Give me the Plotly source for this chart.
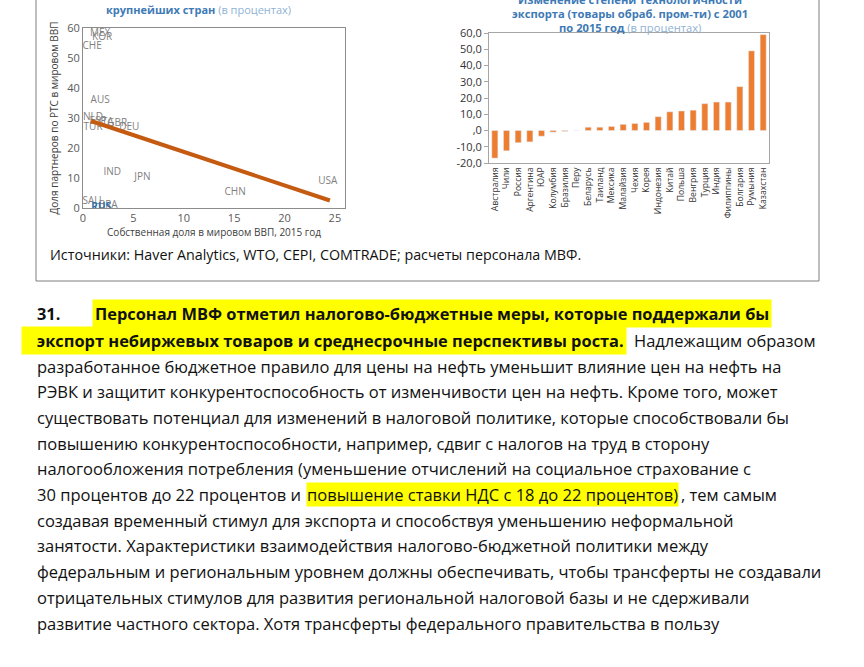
import plotly.graph_objects as go

W, H = 864, 667

# left chart: partner share in world GDP vs own share in world GDP, 2015
countries = ["MEX", "KOR", "CHE", "AUS", "NLD", "ESP", "ITA", "GBR", "DEU", "TUR",
             "IND", "JPN", "CHN", "USA", "SAU", "BRA", "RUS"]
own_gdp_share = [1.7, 1.9, 0.9, 1.7, 1.0, 1.5, 2.3, 3.4, 4.6, 1.0,
                 2.9, 5.9, 15.1, 24.3, 0.9, 2.5, 1.8]
partner_share = [58.3, 57.0, 53.7, 35.7, 30.3, 29.0, 28.6, 28.2, 26.8, 26.7,
                 11.7, 10.3, 5.3, 9.0, 2.3, 0.7, 0.3]
trend_x = [0.8, 24.5]
trend_y = [29.0, 2.5]

# right chart: change in technology content of manufactured exports, 2001-2015
tech_countries = ["Австралия", "Чили", "Россия", "Аргентина", "ЮАР", "Колумбия",
                  "Бразилия", "Перу", "Беларусь", "Таиланд", "Мексика", "Малайзия",
                  "Чехия", "Корея", "Индонезия", "Китай", "Польша", "Венгрия",
                  "Турция", "Индия", "Филиппины", "Болгария", "Румыния", "Казахстан"]
tech_change = [-17.0, -12.5, -7.5, -7.0, -3.5, -1.0, -0.5, 0.0, 2.0, 2.0, 2.5, 3.8,
               4.3, 5.0, 8.5, 11.5, 12.0, 12.5, 16.5, 17.5, 17.5, 27.0, 49.0, 59.0]
tech_ticks = [60, 50, 40, 30, 20, 10, 0, -10, -20]
tech_ticktext = ["60,0", "50,0", "40,0", "30,0", "20,0", "10,0", ",0", "-10,0", "-20,0"]

body_lines = [
    "разработанное бюджетное правило для цены на нефть уменьшит влияние цен на нефть на",
    "РЭВК и защитит конкурентоспособность от изменчивости цен на нефть. Кроме того, может",
    "существовать потенциал для изменений в налоговой политике, которые способствовали бы",
    "повышению конкурентоспособности, например, сдвиг с налогов на труд в сторону",
    "налогообложения потребления (уменьшение отчислений на социальное страхование с",
    None,
    "создавая временный стимул для экспорта и способствуя уменьшению неформальной",
    "занятости. Характеристики взаимодействия налогово-бюджетной политики между",
    "федеральным и региональным уровнем должны обеспечивать, чтобы трансферты не создавали",
    "отрицательных стимулов для развития региональной налоговой базы и не сдерживали",
    "развитие частного сектора. Хотя трансферты федерального правительства в пользу",
]


def px(v):
    return v / W


def py(v):
    return 1 - v / H


BODY = dict(family="Open Sans", size=16.5, color="#111111")
BODY_B = dict(family="Open Sans", size=16.4, color="#111111", weight="bold")
YELLOW = "#ffff00"

fig = go.Figure()

label_colors = ["#7f7f7f"] * len(countries)
label_text = list(countries)
label_colors[countries.index("RUS")] = "#2f6ea5"
label_text[countries.index("RUS")] = "<b>RUS</b>"

fig.add_trace(go.Scatter(
    x=own_gdp_share, y=partner_share, mode="text", text=label_text,
    textfont=dict(family="Open Sans", size=10, color=label_colors),
    xaxis="x", yaxis="y", showlegend=False, hoverinfo="skip"))
fig.add_trace(go.Scatter(
    x=trend_x, y=trend_y, mode="lines",
    line=dict(color="#c55a11", width=4),
    xaxis="x", yaxis="y", showlegend=False))

fig.add_trace(go.Bar(
    x=tech_countries, y=tech_change, marker_color="#ed7d31",
    xaxis="x2", yaxis="y2", showlegend=False))

axis_font = dict(family="Open Sans", size=11, color="#595959")

fig.update_layout(
    width=W, height=H,
    margin=dict(l=0, r=0, t=0, b=0, autoexpand=False),
    paper_bgcolor="white", plot_bgcolor="white",
    bargap=0.48,
    xaxis=dict(domain=[px(83), px(345)], range=[0, 26], anchor="y", automargin=False,
               tickvals=[0, 5, 10, 15, 20, 25], showgrid=False, zeroline=False,
               showline=True, linecolor="#8c8c8c", mirror=True, ticks="",
               tickfont=axis_font,
               title=dict(text="Собственная доля в мировом ВВП, 2015 год",
                          font=dict(family="Open Sans", size=10, color="#404040"),
                          standoff=4)),
    yaxis=dict(domain=[py(208), py(28)], range=[0, 60], anchor="x", automargin=False,
               tickvals=[0, 10, 20, 30, 40, 50, 60], showgrid=False, zeroline=False,
               showline=True, linecolor="#8c8c8c", mirror=True, ticks="",
               tickfont=axis_font,
               title=dict(text="Доля партнеров по РТС в мировом ВВП",
                          font=dict(family="Open Sans", size=10, color="#404040"),
                          standoff=6)),
    xaxis2=dict(domain=[px(489), px(769)], anchor="y2", automargin=False,
                showgrid=False, tickmode="array", tickvals=tech_countries,
                zeroline=False, showline=True, linecolor="#a6a6a6", mirror=True,
                ticks="", tickangle=-90,
                tickfont=dict(family="Open Sans", size=8.6, color="#333333")),
    yaxis2=dict(domain=[py(163), py(33)], range=[-20, 60], anchor="x2", automargin=False,
                tickvals=tech_ticks, ticktext=tech_ticktext, showgrid=False,
                zeroline=False, showline=True, linecolor="#a6a6a6", mirror=True,
                ticks="outside", ticklen=4, tickcolor="#a6a6a6",
                tickfont=dict(family="Open Sans", size=11, color="#333333")),
)

ann = []


def add_text(x, y, text, font, xanchor="left", bg=None, pad=1):
    a = dict(xref="paper", yref="paper", x=px(x), y=py(y), text=text,
             showarrow=False, xanchor=xanchor, yanchor="middle", font=font,
             borderpad=pad)
    if bg:
        a["bgcolor"] = bg
    ann.append(a)


# chart titles
title_font = dict(family="Open Sans", size=11.2, color="#3e7ab5")
add_text(198, 10, "<b>крупнейших стран</b> <span style='color:#8fb2d4'>(в процентах)</span>",
         dict(title_font, size=11), xanchor="center")
add_text(630, -1, "<b>Изменение степени технологичности</b>", title_font, xanchor="center")
add_text(630, 13, "<b>экспорта (товары обраб. пром-ти) с 2001</b>", title_font, xanchor="center")
add_text(630, 27, "<b>по 2015 год</b> <span style='color:#8fb2d4'>(в процентах)</span>",
         title_font, xanchor="center")

# source line
add_text(48, 254, "Источники: Haver Analytics, WTO, CEPI, COMTRADE; расчеты персонала МВФ.",
         dict(family="Open Sans", size=14.3, color="#111111"))

# paragraph 31
add_text(35, 313, "31.", BODY_B)
add_text(92, 313, "Персонал МВФ отметил налогово-бюджетные меры, которые поддержали бы",
         BODY_B, bg=YELLOW, pad=2)
add_text(21, 340, "   экспорт небиржевых товаров и среднесрочные перспективы роста.",
         BODY_B, bg=YELLOW, pad=2)
add_text(632, 340, "Надлежащим образом", BODY)

y0 = 366
step = 25.7
for i, line in enumerate(body_lines):
    yy = y0 + i * step
    if line is None:
        add_text(35, yy, "30 процентов до 22 процентов и", BODY)
        add_text(306, yy, "повышение ставки НДС с 18 до 22 процентов)", BODY, bg=YELLOW, pad=0)
        add_text(679, yy, ", тем самым", BODY)
    else:
        add_text(35, yy, line, BODY)

fig.update_layout(annotations=ann)

# document frame around the figure block
frame = dict(type="line", xref="paper", yref="paper", line=dict(color="#7f7f7f", width=1))
fig.update_layout(shapes=[
    dict(frame, x0=px(36), x1=px(36), y0=py(281), y1=1),
    dict(frame, x0=px(819), x1=px(819), y0=py(281), y1=1),
    dict(frame, x0=px(36), x1=px(819), y0=py(281), y1=py(281)),
])

fig.write_html("out.html", config={"displayModeBar": False},
               post_script="document.body.style.margin='0';")
